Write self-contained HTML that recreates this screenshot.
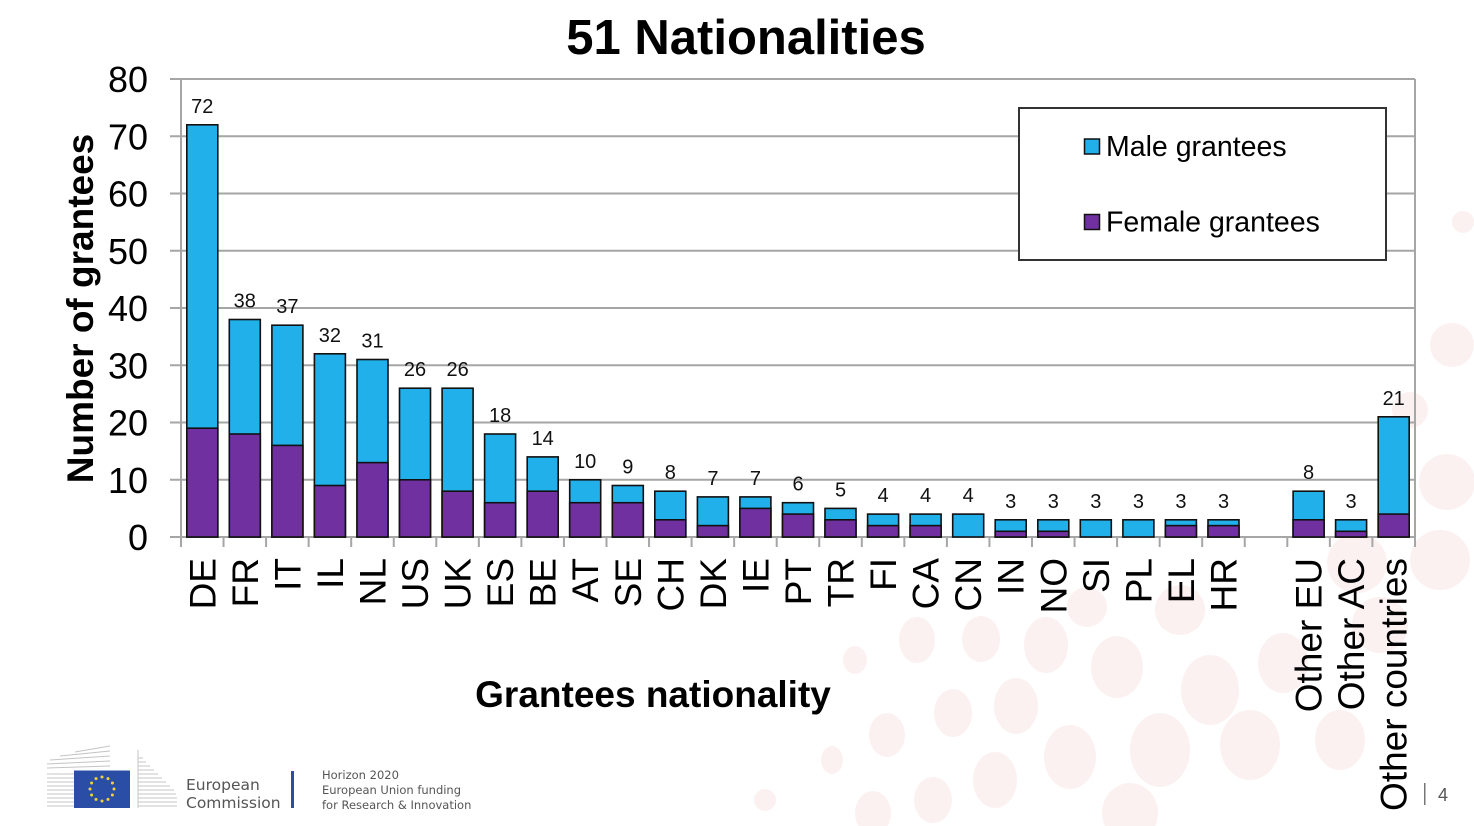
<!DOCTYPE html>
<html><head><meta charset="utf-8"><style>
html,body{margin:0;padding:0;background:#fff;}
svg{display:block;}
text{font-family:"Liberation Sans",Arial,sans-serif;}
</style></head><body>
<svg width="1474" height="826" viewBox="0 0 1474 826" xmlns="http://www.w3.org/2000/svg">
<rect width="1474" height="826" fill="#fff"/>
<!-- decorative circles -->
<g fill="#fcf1f1">
<circle cx="1463" cy="222" r="11"/>
<circle cx="1452" cy="345" r="22"/>
<circle cx="1410" cy="410" r="18"/>
<circle cx="1447" cy="482" r="28"/>
<circle cx="1440" cy="560" r="30"/>
<circle cx="1357" cy="563" r="30"/>
<circle cx="1380" cy="625" r="28"/>
<ellipse cx="917" cy="640" rx="18" ry="23"/>
<ellipse cx="981" cy="639" rx="19" ry="23"/>
<ellipse cx="1046" cy="645" rx="22" ry="28"/>
<ellipse cx="855" cy="660" rx="12" ry="14"/>
<ellipse cx="1117" cy="667" rx="26" ry="31"/>
<ellipse cx="953" cy="713" rx="19" ry="24"/>
<ellipse cx="1016" cy="706" rx="22" ry="28"/>
<ellipse cx="887" cy="735" rx="18" ry="22"/>
<ellipse cx="832" cy="760" rx="11" ry="14"/>
<ellipse cx="1070" cy="757" rx="26" ry="32"/>
<ellipse cx="995" cy="780" rx="22" ry="28"/>
<ellipse cx="1160" cy="750" rx="30" ry="37"/>
<ellipse cx="933" cy="800" rx="19" ry="23"/>
<ellipse cx="873" cy="813" rx="18" ry="22"/>
<ellipse cx="1130" cy="813" rx="28" ry="30"/>
<ellipse cx="1210" cy="690" rx="29" ry="35"/>
<ellipse cx="1283" cy="663" rx="25" ry="30"/>
<ellipse cx="1250" cy="745" rx="30" ry="35"/>
<ellipse cx="1180" cy="610" rx="25" ry="25"/>
<ellipse cx="1087" cy="607" rx="20" ry="20"/>
<ellipse cx="765" cy="800" rx="11" ry="11"/>
<ellipse cx="1340" cy="740" rx="25" ry="30"/>
</g>

<!-- title -->
<text x="746" y="54" font-size="49" font-weight="bold" text-anchor="middle" fill="#000">51 Nationalities</text>

<!-- gridlines -->
<g stroke="#a6a6a6" stroke-width="2">
<line x1="170" y1="79" x2="1415" y2="79"/>
<line x1="170" y1="136.25" x2="1415" y2="136.25"/>
<line x1="170" y1="193.5" x2="1415" y2="193.5"/>
<line x1="170" y1="250.75" x2="1415" y2="250.75"/>
<line x1="170" y1="308" x2="1415" y2="308"/>
<line x1="170" y1="365.25" x2="1415" y2="365.25"/>
<line x1="170" y1="422.5" x2="1415" y2="422.5"/>
<line x1="170" y1="479.75" x2="1415" y2="479.75"/>
<line x1="1415" y1="79" x2="1415" y2="547"/>
<line x1="181" y1="79" x2="181" y2="547"/>
<line x1="170" y1="537" x2="1415" y2="537"/>
</g>
<!-- x ticks -->
<g stroke="#a6a6a6" stroke-width="2">
<line x1="223.55" y1="537" x2="223.55" y2="547"/>
<line x1="266.1" y1="537" x2="266.1" y2="547"/>
<line x1="308.65" y1="537" x2="308.65" y2="547"/>
<line x1="351.2" y1="537" x2="351.2" y2="547"/>
<line x1="393.75" y1="537" x2="393.75" y2="547"/>
<line x1="436.3" y1="537" x2="436.3" y2="547"/>
<line x1="478.85" y1="537" x2="478.85" y2="547"/>
<line x1="521.4" y1="537" x2="521.4" y2="547"/>
<line x1="563.95" y1="537" x2="563.95" y2="547"/>
<line x1="606.5" y1="537" x2="606.5" y2="547"/>
<line x1="649.05" y1="537" x2="649.05" y2="547"/>
<line x1="691.6" y1="537" x2="691.6" y2="547"/>
<line x1="734.15" y1="537" x2="734.15" y2="547"/>
<line x1="776.7" y1="537" x2="776.7" y2="547"/>
<line x1="819.25" y1="537" x2="819.25" y2="547"/>
<line x1="861.8" y1="537" x2="861.8" y2="547"/>
<line x1="904.35" y1="537" x2="904.35" y2="547"/>
<line x1="946.9" y1="537" x2="946.9" y2="547"/>
<line x1="989.45" y1="537" x2="989.45" y2="547"/>
<line x1="1032" y1="537" x2="1032" y2="547"/>
<line x1="1074.55" y1="537" x2="1074.55" y2="547"/>
<line x1="1117.1" y1="537" x2="1117.1" y2="547"/>
<line x1="1159.65" y1="537" x2="1159.65" y2="547"/>
<line x1="1202.2" y1="537" x2="1202.2" y2="547"/>
<line x1="1244.75" y1="537" x2="1244.75" y2="547"/>
<line x1="1287.3" y1="537" x2="1287.3" y2="547"/>
<line x1="1329.85" y1="537" x2="1329.85" y2="547"/>
<line x1="1372.4" y1="537" x2="1372.4" y2="547"/>
</g>

<!-- y tick labels -->
<g font-size="36" text-anchor="end" fill="#000">
<text x="148" y="92">80</text>
<text x="148" y="149.25">70</text>
<text x="148" y="206.5">60</text>
<text x="148" y="263.75">50</text>
<text x="148" y="321">40</text>
<text x="148" y="378.25">30</text>
<text x="148" y="435.5">20</text>
<text x="148" y="492.75">10</text>
<text x="148" y="550">0</text>
</g>

<!-- y axis title -->
<text x="93" y="308.5" font-size="37" font-weight="bold" text-anchor="middle" transform="rotate(-90 93 308.5)">Number of grantees</text>

<!-- bars -->
<g stroke="#111" stroke-width="1.6">
<g fill="#22b0ea">
<rect x="186.8" y="124.8" width="31" height="412.2"/>
<rect x="229.3" y="319.5" width="31" height="217.5"/>
<rect x="271.9" y="325.2" width="31" height="211.8"/>
<rect x="314.4" y="353.8" width="31" height="183.2"/>
<rect x="357" y="359.5" width="31" height="177.5"/>
<rect x="399.5" y="388.2" width="31" height="148.8"/>
<rect x="442.1" y="388.2" width="31" height="148.8"/>
<rect x="484.6" y="434" width="31" height="103"/>
<rect x="527.2" y="456.9" width="31" height="80.1"/>
<rect x="569.7" y="479.8" width="31" height="57.2"/>
<rect x="612.3" y="485.5" width="31" height="51.5"/>
<rect x="654.8" y="491.2" width="31" height="45.8"/>
<rect x="697.4" y="496.9" width="31" height="40.1"/>
<rect x="739.9" y="496.9" width="31" height="40.1"/>
<rect x="782.5" y="502.7" width="31" height="34.3"/>
<rect x="825" y="508.4" width="31" height="28.6"/>
<rect x="867.6" y="514.1" width="31" height="22.9"/>
<rect x="910.1" y="514.1" width="31" height="22.9"/>
<rect x="952.7" y="514.1" width="31" height="22.9"/>
<rect x="995.2" y="519.8" width="31" height="17.2"/>
<rect x="1037.8" y="519.8" width="31" height="17.2"/>
<rect x="1080.3" y="519.8" width="31" height="17.2"/>
<rect x="1122.9" y="519.8" width="31" height="17.2"/>
<rect x="1165.4" y="519.8" width="31" height="17.2"/>
<rect x="1208" y="519.8" width="31" height="17.2"/>
<rect x="1293.1" y="491.2" width="31" height="45.8"/>
<rect x="1335.6" y="519.8" width="31" height="17.2"/>
<rect x="1378.2" y="416.8" width="31" height="120.2"/>
</g>
<g fill="#7030a0">
<rect x="186.8" y="428.2" width="31" height="108.8"/>
<rect x="229.3" y="434" width="31" height="103"/>
<rect x="271.9" y="445.4" width="31" height="91.6"/>
<rect x="314.4" y="485.5" width="31" height="51.5"/>
<rect x="357" y="462.6" width="31" height="74.4"/>
<rect x="399.5" y="479.8" width="31" height="57.2"/>
<rect x="442.1" y="491.2" width="31" height="45.8"/>
<rect x="484.6" y="502.7" width="31" height="34.3"/>
<rect x="527.2" y="491.2" width="31" height="45.8"/>
<rect x="569.7" y="502.7" width="31" height="34.3"/>
<rect x="612.3" y="502.7" width="31" height="34.3"/>
<rect x="654.8" y="519.8" width="31" height="17.2"/>
<rect x="697.4" y="525.6" width="31" height="11.4"/>
<rect x="739.9" y="508.4" width="31" height="28.6"/>
<rect x="782.5" y="514.1" width="31" height="22.9"/>
<rect x="825" y="519.8" width="31" height="17.2"/>
<rect x="867.6" y="525.6" width="31" height="11.4"/>
<rect x="910.1" y="525.6" width="31" height="11.4"/>
<rect x="995.2" y="531.3" width="31" height="5.7"/>
<rect x="1037.8" y="531.3" width="31" height="5.7"/>
<rect x="1165.4" y="525.6" width="31" height="11.4"/>
<rect x="1208" y="525.6" width="31" height="11.4"/>
<rect x="1293.1" y="519.8" width="31" height="17.2"/>
<rect x="1335.6" y="531.3" width="31" height="5.7"/>
<rect x="1378.2" y="514.1" width="31" height="22.9"/>
</g>
</g>

<!-- value labels -->
<g font-size="20" text-anchor="middle" fill="#111">
<text x="202.3" y="112.8">72</text>
<text x="244.8" y="307.5">38</text>
<text x="287.4" y="313.2">37</text>
<text x="329.9" y="341.8">32</text>
<text x="372.5" y="347.5">31</text>
<text x="415" y="376.2">26</text>
<text x="457.6" y="376.2">26</text>
<text x="500.1" y="422">18</text>
<text x="542.7" y="444.9">14</text>
<text x="585.2" y="467.8">10</text>
<text x="627.8" y="473.5">9</text>
<text x="670.3" y="479.2">8</text>
<text x="712.9" y="484.9">7</text>
<text x="755.4" y="484.9">7</text>
<text x="798" y="490.7">6</text>
<text x="840.5" y="496.4">5</text>
<text x="883.1" y="502.1">4</text>
<text x="925.6" y="502.1">4</text>
<text x="968.2" y="502.1">4</text>
<text x="1010.7" y="507.8">3</text>
<text x="1053.3" y="507.8">3</text>
<text x="1095.8" y="507.8">3</text>
<text x="1138.4" y="507.8">3</text>
<text x="1180.9" y="507.8">3</text>
<text x="1223.5" y="507.8">3</text>
<text x="1308.6" y="479.2">8</text>
<text x="1351.1" y="507.8">3</text>
<text x="1393.7" y="404.8">21</text>
</g>

<!-- x labels -->
<g font-size="37" text-anchor="end" fill="#000">
<text x="215.3" y="558" transform="rotate(-90 215.3 558)">DE</text>
<text x="257.8" y="558" transform="rotate(-90 257.8 558)">FR</text>
<text x="300.4" y="558" transform="rotate(-90 300.4 558)">IT</text>
<text x="342.9" y="558" transform="rotate(-90 342.9 558)">IL</text>
<text x="385.5" y="558" transform="rotate(-90 385.5 558)">NL</text>
<text x="428" y="558" transform="rotate(-90 428 558)">US</text>
<text x="470.6" y="558" transform="rotate(-90 470.6 558)">UK</text>
<text x="513.1" y="558" transform="rotate(-90 513.1 558)">ES</text>
<text x="555.7" y="558" transform="rotate(-90 555.7 558)">BE</text>
<text x="598.2" y="558" transform="rotate(-90 598.2 558)">AT</text>
<text x="640.8" y="558" transform="rotate(-90 640.8 558)">SE</text>
<text x="683.3" y="558" transform="rotate(-90 683.3 558)">CH</text>
<text x="725.9" y="558" transform="rotate(-90 725.9 558)">DK</text>
<text x="768.4" y="558" transform="rotate(-90 768.4 558)">IE</text>
<text x="811" y="558" transform="rotate(-90 811 558)">PT</text>
<text x="853.5" y="558" transform="rotate(-90 853.5 558)">TR</text>
<text x="896.1" y="558" transform="rotate(-90 896.1 558)">FI</text>
<text x="938.6" y="558" transform="rotate(-90 938.6 558)">CA</text>
<text x="981.2" y="558" transform="rotate(-90 981.2 558)">CN</text>
<text x="1023.7" y="558" transform="rotate(-90 1023.7 558)">IN</text>
<text x="1066.3" y="558" transform="rotate(-90 1066.3 558)">NO</text>
<text x="1108.8" y="558" transform="rotate(-90 1108.8 558)">SI</text>
<text x="1151.4" y="558" transform="rotate(-90 1151.4 558)">PL</text>
<text x="1193.9" y="558" transform="rotate(-90 1193.9 558)">EL</text>
<text x="1236.5" y="558" transform="rotate(-90 1236.5 558)">HR</text>
<text x="1321.6" y="558" transform="rotate(-90 1321.6 558)">Other EU</text>
<text x="1364.1" y="558" transform="rotate(-90 1364.1 558)">Other AC</text>
<text x="1406.7" y="558" transform="rotate(-90 1406.7 558)">Other countries</text>
</g>

<!-- x axis title -->
<text x="653" y="707" font-size="37" font-weight="bold" text-anchor="middle" fill="#000">Grantees nationality</text>

<!-- legend -->
<rect x="1019" y="108" width="367" height="152" fill="#fff" stroke="#333" stroke-width="2"/>
<rect x="1084.5" y="139" width="15" height="15" fill="#22b0ea" stroke="#111" stroke-width="1.5"/>
<rect x="1084.5" y="214.5" width="15" height="15" fill="#7030a0" stroke="#111" stroke-width="1.5"/>
<text x="1106" y="156" font-size="28.5" fill="#000">Male grantees</text>
<text x="1106" y="231.5" font-size="28.5" fill="#000">Female grantees</text>

<!-- footer logo -->
<g stroke="#c4c4c4" stroke-width="1">
<line x1="47" y1="806" x2="74" y2="806"/>
<line x1="47" y1="802" x2="74" y2="802"/>
<line x1="47" y1="798" x2="74" y2="798"/>
<line x1="47" y1="794" x2="74" y2="794"/>
<line x1="47" y1="790" x2="74" y2="790"/>
<line x1="47" y1="786" x2="74" y2="786"/>
<line x1="47" y1="782" x2="74" y2="782"/>
<line x1="47" y1="778" x2="74" y2="778"/>
<line x1="47" y1="774" x2="74" y2="774"/>
<line x1="47" y1="768" x2="110" y2="766"/>
<line x1="47" y1="764" x2="110" y2="761"/>
<line x1="50" y1="760" x2="110" y2="756"/>
<line x1="60" y1="756" x2="110" y2="751"/>
<line x1="75" y1="752" x2="110" y2="746"/>
<line x1="138" y1="806" x2="177" y2="806"/>
<line x1="138" y1="802" x2="177" y2="802"/>
<line x1="138" y1="798" x2="177" y2="798"/>
<line x1="138" y1="794" x2="176" y2="794"/>
<line x1="138" y1="790" x2="174" y2="790"/>
<line x1="138" y1="786" x2="170" y2="786"/>
<line x1="138" y1="782" x2="166" y2="782"/>
<line x1="138" y1="778" x2="162" y2="778"/>
<line x1="138" y1="774" x2="158" y2="774"/>
<line x1="138" y1="770" x2="154" y2="770"/>
<line x1="138" y1="766" x2="150" y2="766"/>
<line x1="138" y1="762" x2="146" y2="762"/>
<line x1="138" y1="758" x2="143" y2="758"/>
<line x1="138" y1="750" x2="138" y2="808"/>
</g>
<rect x="74" y="770.5" width="56" height="37.5" fill="#2a4ea6"/>
<g fill="#f4d03f">
<circle cx="102" cy="777" r="1.5"/>
<circle cx="108" cy="778.6" r="1.5"/>
<circle cx="112.4" cy="783" r="1.5"/>
<circle cx="114" cy="789" r="1.5"/>
<circle cx="112.4" cy="795" r="1.5"/>
<circle cx="108" cy="799.4" r="1.5"/>
<circle cx="102" cy="801" r="1.5"/>
<circle cx="96" cy="799.4" r="1.5"/>
<circle cx="91.6" cy="795" r="1.5"/>
<circle cx="90" cy="789" r="1.5"/>
<circle cx="91.6" cy="783" r="1.5"/>
<circle cx="96" cy="778.6" r="1.5"/>
</g>
<g font-family="'DejaVu Sans',sans-serif" fill="#555">
<text x="186" y="790" font-size="15.5" style="font-family:'DejaVu Sans',sans-serif">European</text>
<text x="186" y="808" font-size="15.5" style="font-family:'DejaVu Sans',sans-serif">Commission</text>
<text x="322" y="779" font-size="11.5" style="font-family:'DejaVu Sans',sans-serif">Horizon 2020</text>
<text x="322" y="794" font-size="11.5" style="font-family:'DejaVu Sans',sans-serif">European Union funding</text>
<text x="322" y="809" font-size="11.5" style="font-family:'DejaVu Sans',sans-serif">for Research &amp; Innovation</text>
</g>
<rect x="291" y="771" width="3" height="37" fill="#2a4ea6"/>

<!-- page number -->
<rect x="1424" y="783" width="1.5" height="22" fill="#777"/>
<text x="1438" y="801" font-size="18" fill="#555">4</text>
</svg>
</body></html>
